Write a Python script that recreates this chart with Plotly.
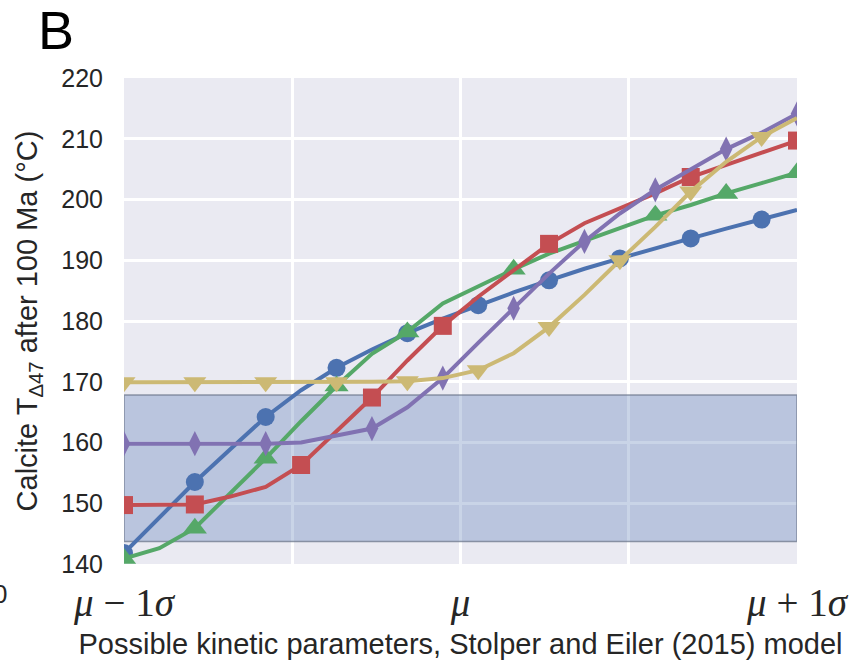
import numpy as np
import plotly.graph_objects as go

# Possible kinetic parameter sets, from mu-1sigma (-1) to mu+1sigma (+1)
x_param = np.linspace(-1, 1, 20)

# Calcite T_D47 after 100 Ma (deg C) for each series
blue_vals = [141.8, 147.6, 153.5, 158.9, 164.2, 168.6, 172.3, 175.3, 178.0, 180.4,
             182.6, 184.7, 186.7, 188.6, 190.3, 192.0, 193.6, 195.2, 196.7, 198.3]
green_vals = [140.9, 142.6, 145.9, 151.6, 157.4, 163.5, 169.3, 174.6, 178.2, 182.9,
              185.7, 188.5, 191.1, 193.2, 195.3, 197.4, 199.1, 201.0, 202.7, 204.4]
red_vals = [149.7, 149.7, 149.8, 151.1, 152.7, 156.3, 161.8, 167.4, 173.5, 179.2,
            184.0, 188.4, 192.7, 196.1, 198.5, 201.0, 203.7, 205.7, 207.6, 209.7]
purple_vals = [159.8, 159.8, 159.8, 159.8, 159.8, 160.0, 161.2, 162.3, 165.8, 170.6,
               176.4, 182.1, 187.8, 193.1, 197.7, 201.6, 204.9, 208.3, 211.0, 214.1]
yellow_vals = [169.9, 169.9, 169.9, 169.9, 169.9, 169.9, 169.9, 170.0, 170.1, 170.6,
               171.9, 174.7, 179.0, 184.3, 190.0, 195.5, 201.3, 206.2, 210.3, 213.4]

# indices of points that carry a marker
blue_marks = [0, 2, 4, 6, 8, 10, 12, 14, 16, 18]
green_marks = [0, 2, 4, 6, 8, 11, 15, 17, 19]
red_marks = [0, 2, 5, 7, 9, 12, 16, 19]
purple_marks = [0, 2, 4, 7, 9, 11, 13, 15, 17, 19]
yellow_marks = [0, 2, 4, 6, 8, 10, 12, 14, 16, 18]

# observed temperature band
band_low = 143.7
band_high = 167.8

x_tick_vals = [-1, -0.5, 0, 0.5, 1]
x_tick_text = ["<i>μ</i> − 1<i>σ</i>", "", "<i>μ</i>", "", "<i>μ</i> + 1<i>σ</i>"]
y_tick_vals = [140, 150, 160, 170, 180, 190, 200, 210, 220]

series = [
    (blue_vals, blue_marks, "#4C72B0", "circle", 18),
    (green_vals, green_marks, "#55A868", "triangle-up", 21),
    (red_vals, red_marks, "#C44E52", "square", 18),
    (purple_vals, purple_marks, "#8172B2", "diamond-tall", 18),
    (yellow_vals, yellow_marks, "#CCB974", "triangle-down", 20),
]

fig = go.Figure()
for vals, marks, color, sym, sz in series:
    sizes = [sz if i in marks else 0 for i in range(len(vals))]
    fig.add_trace(go.Scatter(
        x=x_param, y=vals, mode="lines+markers",
        line=dict(color=color, width=4),
        marker=dict(symbol=sym, size=sizes, color=color, opacity=1, line=dict(width=0)),
        showlegend=False, cliponaxis=True,
    ))

fig.add_shape(type="rect", xref="x", yref="y", x0=-1, x1=1, y0=band_low, y1=band_high,
              fillcolor="rgba(76,114,176,0.3)", line=dict(color="rgba(110,120,140,0.75)", width=1.5),
              layer="between")

fig.add_annotation(text="B", xref="paper", yref="paper", x=(35 - 123.5) / 674, y=1.099,
                   xanchor="left", yanchor="middle", showarrow=False,
                   font=dict(family="Liberation Sans, Arial", size=54, color="black"))
fig.add_annotation(text="0", xref="paper", yref="paper", x=(8 - 123.5) / 674, y=(564 - 594) / 486,
                   xanchor="right", yanchor="middle", showarrow=False,
                   font=dict(family="Liberation Sans, Arial", size=26, color="#262626"))

fig.update_layout(
    width=854, height=660,
    margin=dict(l=123.5, r=56.5, t=78, b=96, autoexpand=False),
    paper_bgcolor="white", plot_bgcolor="#EAEAF2",
    font=dict(family="Liberation Sans, Arial", color="#262626"),
    xaxis=dict(range=[-1, 1], tickvals=x_tick_vals, ticktext=x_tick_text,
               showgrid=True, gridcolor="white", gridwidth=2.5, zeroline=False,
               showline=False, ticks="", ticklabelstandoff=12,
               tickfont=dict(family="Liberation Serif, DejaVu Serif", size=39, color="#262626"),
               title=dict(text="Possible kinetic parameters, Stolper and Eiler (2015) model",
                          font=dict(size=29, color="#262626"), standoff=12)),
    yaxis=dict(range=[140, 220], tickvals=y_tick_vals,
               showgrid=True, gridcolor="white", gridwidth=2.5, zeroline=False,
               showline=False, ticks="", ticklabelstandoff=20,
               tickfont=dict(size=25, color="#262626"),
               title=dict(text="Calcite T<sub>Δ47</sub> after 100 Ma (°C)",
                          font=dict(size=29, color="#262626"), standoff=15)),
)

fig.write_html("out.html")
